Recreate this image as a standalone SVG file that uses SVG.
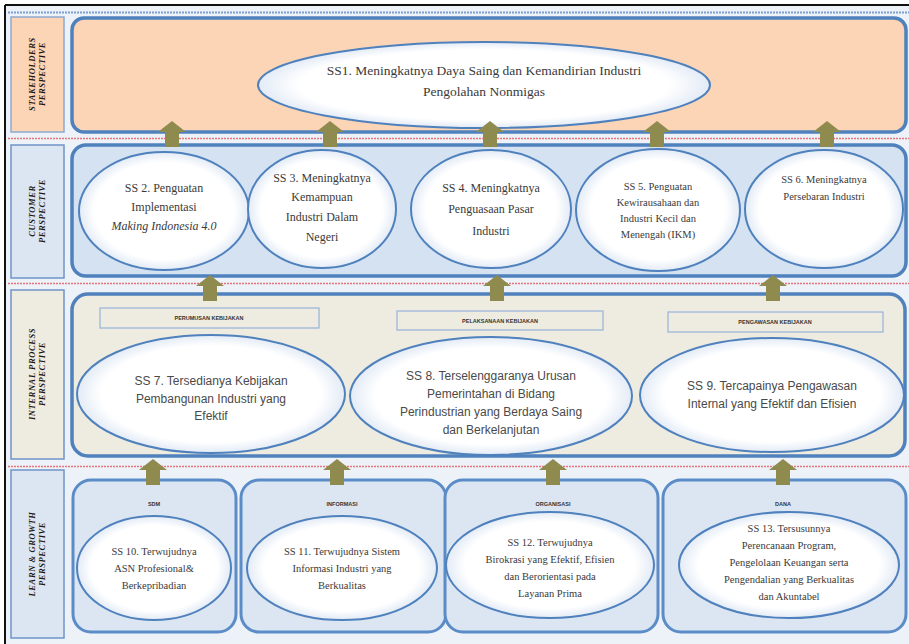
<svg xmlns="http://www.w3.org/2000/svg" width="909" height="644" viewBox="0 0 909 644">
<defs>
<radialGradient id="eg" cx="50%" cy="50%" r="50%">
<stop offset="0" stop-color="#ffffff"/>
<stop offset="0.82" stop-color="#ffffff"/>
<stop offset="1" stop-color="#e3ebf6"/>
</radialGradient>
<path id="arr" d="M0 0 L14 11 L7 11 L7 26 L-7 26 L-7 11 L-14 11 Z"/>
</defs>
<style>
.lab{fill:#FBD5B5;stroke:#8EA9CF;stroke-width:1.5}
.labb{fill:#DCE6F2;stroke:#6F94C8;stroke-width:1.5}
.labi{fill:#EEECE1;stroke:#6F94C8;stroke-width:1.5}
.row{stroke:#4F81BD;stroke-width:3.5}
.ell{fill:url(#eg);stroke:#4F81BD;stroke-width:2}
.box{fill:#DCE6F2;stroke:#5B8CC8;stroke-width:3}
.tag{fill:#EEECE1;stroke:#95B3D7;stroke-width:1.2}
.pt{font-family:"Liberation Serif",serif;font-weight:bold;font-style:italic;font-size:8.5px;letter-spacing:0.6px;fill:#1a1a1a;text-anchor:middle}
.s{font-family:"Liberation Serif",serif;fill:#3a3a3a;text-anchor:middle}
.a{font-family:"Liberation Sans",sans-serif;fill:#4a4a4a;text-anchor:middle;font-size:12px}
.t{font-family:"Liberation Sans",sans-serif;font-weight:bold;fill:#333;text-anchor:middle;font-size:5.5px}
.red{stroke:#E8747C;stroke-width:1.5;stroke-dasharray:2 1;fill:none}
.arw{fill:#8F8A4E}
</style>
<rect x="0" y="0" width="909" height="644" fill="#ffffff"/>
<rect x="6" y="6" width="903" height="640" fill="#EDF2F9"/>
<line x1="5" y1="5" x2="909" y2="5" stroke="#111" stroke-width="2"/>
<line x1="5" y1="5" x2="5" y2="644" stroke="#111" stroke-width="2"/>
<line x1="8" y1="12.5" x2="909" y2="12.5" stroke="#7F9FD0" stroke-width="2" stroke-dasharray="2 1"/>
<line x1="8" y1="138.5" x2="909" y2="138.5" class="red"/>
<line x1="8" y1="283.5" x2="909" y2="283.5" class="red"/>
<line x1="8" y1="466.5" x2="909" y2="466.5" class="red"/>

<g id="stakeholders-row">
<rect x="11" y="17" width="53" height="115" class="lab"/>
<text transform="translate(37 74) rotate(-90)" class="pt"><tspan x="0" y="-2">STAKEHOLDERS</tspan><tspan x="0" y="8">PERSPECTIVE</tspan></text>
<rect x="72" y="18" width="834" height="114" rx="12" class="row" fill="#FBD5B5"/>
</g>
<g id="ss1">
<ellipse cx="484" cy="85" rx="226" ry="43" class="ell"/>
<text class="s" font-size="13.5"><tspan x="484" y="75">SS1. Meningkatnya Daya Saing dan Kemandirian Industri</tspan><tspan x="484" y="96">Pengolahan Nonmigas</tspan></text>
</g>

<g id="customer-row">
<rect x="11" y="145" width="53" height="133" class="labb"/>
<text transform="translate(37 211) rotate(-90)" class="pt"><tspan x="0" y="-2">CUSTOMER</tspan><tspan x="0" y="8">PERSPECTIVE</tspan></text>
<rect x="72" y="145" width="834" height="131" rx="14" class="row" fill="#D5E2F2"/>
</g>
<g id="ss2">
<ellipse cx="164" cy="211" rx="85" ry="59" class="ell"/>
<text class="s" font-size="12"><tspan x="164" y="192">SS 2. Penguatan</tspan><tspan x="164" y="211">Implementasi</tspan><tspan x="164" y="230" font-style="italic">Making Indonesia 4.0</tspan></text>
</g>
<g id="ss3">
<ellipse cx="322" cy="209" rx="74" ry="59" class="ell"/>
<text class="s" font-size="12"><tspan x="322" y="182">SS 3. Meningkatnya</tspan><tspan x="322" y="201">Kemampuan</tspan><tspan x="322" y="221">Industri Dalam</tspan><tspan x="322" y="241">Negeri</tspan></text>
</g>
<g id="ss4">
<ellipse cx="491" cy="209" rx="80" ry="59" class="ell"/>
<text class="s" font-size="12"><tspan x="491" y="192">SS 4. Meningkatnya</tspan><tspan x="491" y="213">Penguasaan Pasar</tspan><tspan x="491" y="235">Industri</tspan></text>
</g>
<g id="ss5">
<ellipse cx="658" cy="210" rx="82" ry="61" class="ell"/>
<text class="s" font-size="10.5"><tspan x="658" y="190">SS 5. Penguatan</tspan><tspan x="658" y="206">Kewirausahaan dan</tspan><tspan x="658" y="222">Industri Kecil dan</tspan><tspan x="658" y="238">Menengah (IKM)</tspan></text>
</g>
<g id="ss6">
<ellipse cx="824" cy="209" rx="79" ry="59" class="ell"/>
<text class="s" font-size="10.5"><tspan x="824" y="183">SS 6. Meningkatnya</tspan><tspan x="824" y="200">Persebaran Industri</tspan></text>
</g>

<g id="internal-row">
<rect x="11" y="290" width="53" height="169" class="labi"/>
<text transform="translate(37 374) rotate(-90)" class="pt"><tspan x="0" y="-2">INTERNAL PROCESS</tspan><tspan x="0" y="8">PERSPECTIVE</tspan></text>
<rect x="72" y="294" width="833" height="162" rx="16" class="row" fill="#EEECE1"/>
<rect x="100" y="308" width="219" height="20" class="tag"/>
<text x="209" y="320" class="t">PERUMUSAN KEBIJAKAN</text>
<rect x="397" y="311" width="206" height="19" class="tag"/>
<text x="500" y="322.5" class="t">PELAKSANAAN KEBIJAKAN</text>
<rect x="668" y="312" width="215" height="20" class="tag"/>
<text x="775" y="324" class="t">PENGAWASAN KEBIJAKAN</text>
</g>
<g id="ss7">
<ellipse cx="211" cy="394" rx="134" ry="59" class="ell"/>
<text class="a"><tspan x="211" y="385">SS 7. Tersedianya Kebijakan</tspan><tspan x="211" y="403">Pembangunan Industri yang</tspan><tspan x="211" y="420">Efektif</tspan></text>
</g>
<g id="ss8">
<ellipse cx="491" cy="396" rx="141" ry="59" class="ell"/>
<text class="a"><tspan x="491" y="380">SS 8. Terselenggaranya Urusan</tspan><tspan x="491" y="398">Pemerintahan di Bidang</tspan><tspan x="491" y="416">Perindustrian yang Berdaya Saing</tspan><tspan x="491" y="434">dan Berkelanjutan</tspan></text>
</g>
<g id="ss9">
<ellipse cx="772" cy="395" rx="132" ry="57" class="ell"/>
<text class="a"><tspan x="772" y="390">SS 9. Tercapainya Pengawasan</tspan><tspan x="772" y="408">Internal yang Efektif dan Efisien</tspan></text>
</g>

<g id="learn-row">
<rect x="11" y="470" width="53" height="168" class="labb"/>
<text transform="translate(37 554) rotate(-90)" class="pt"><tspan x="0" y="-2">LEARN &amp; GROWTH</tspan><tspan x="0" y="8">PERSPECTIVE</tspan></text>
</g>
<g id="sdm">
<rect x="73" y="480" width="163" height="152" rx="18" class="box"/>
<text x="154" y="506" class="t">SDM</text>
<ellipse cx="154" cy="568" rx="77" ry="52" class="ell"/>
<text class="s" font-size="10.5"><tspan x="154" y="555">SS 10. Terwujudnya</tspan><tspan x="154" y="572">ASN Profesional&amp;</tspan><tspan x="154" y="589">Berkepribadian</tspan></text>
</g>
<g id="informasi">
<rect x="241" y="480" width="205" height="152" rx="18" class="box"/>
<text x="342" y="506" class="t">INFORMASI</text>
<ellipse cx="342" cy="568" rx="95" ry="52" class="ell"/>
<text class="s" font-size="10.5"><tspan x="342" y="555">SS 11. Terwujudnya Sistem</tspan><tspan x="342" y="572">Informasi Industri yang</tspan><tspan x="342" y="589">Berkualitas</tspan></text>
</g>
<g id="organisasi">
<rect x="445" y="480" width="213" height="152" rx="18" class="box"/>
<text x="553" y="506" class="t">ORGANISASI</text>
<ellipse cx="550" cy="565" rx="104" ry="53" class="ell"/>
<text class="s" font-size="10.5"><tspan x="550" y="546">SS 12. Terwujudnya</tspan><tspan x="550" y="563">Birokrasi yang Efektif, Efisien</tspan><tspan x="550" y="580">dan Berorientasi pada</tspan><tspan x="550" y="597">Layanan Prima</tspan></text>
</g>
<g id="dana">
<rect x="663" y="480" width="243" height="152" rx="18" class="box"/>
<text x="783" y="506" class="t">DANA</text>
<ellipse cx="789" cy="565" rx="110" ry="53" class="ell"/>
<text class="s" font-size="10.5"><tspan x="789" y="532">SS 13. Tersusunnya</tspan><tspan x="789" y="549">Perencanaan Program,</tspan><tspan x="789" y="566">Pengelolaan Keuangan serta</tspan><tspan x="789" y="583">Pengendalian yang Berkualitas</tspan><tspan x="789" y="600">dan Akuntabel</tspan></text>
</g>

<g id="connectors" class="arw">
<use href="#arr" x="172" y="121"/>
<use href="#arr" x="330" y="121"/>
<use href="#arr" x="490" y="121"/>
<use href="#arr" x="657" y="121"/>
<use href="#arr" x="827" y="121"/>
<use href="#arr" x="210" y="275"/>
<use href="#arr" x="497" y="275"/>
<use href="#arr" x="773" y="275"/>
<use href="#arr" x="153" y="459"/>
<use href="#arr" x="337" y="459"/>
<use href="#arr" x="553" y="459"/>
<use href="#arr" x="783" y="459"/>
</g>
</svg>
